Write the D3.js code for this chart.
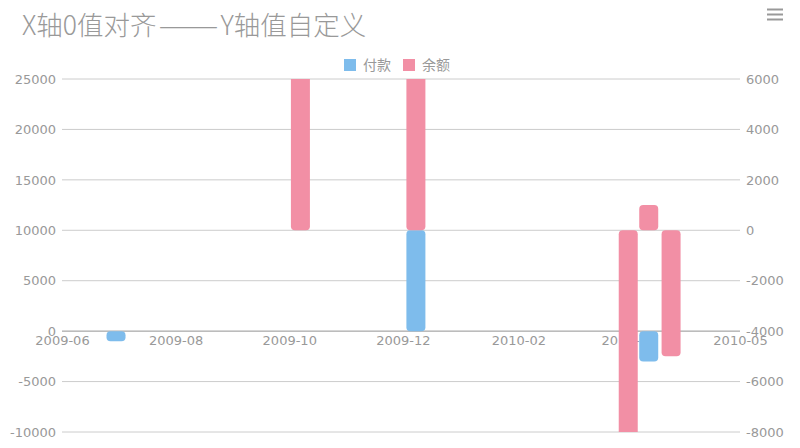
<!DOCTYPE html>
<html>
<head>
<meta charset="utf-8">
<script src="https://cdn.jsdelivr.net/npm/d3@7"></script>
<style>
  body { margin: 0; background: #fff; }
  svg { display: block; }
</style>
</head>
<body>
<svg></svg>
<script>
// 付款 -> left axis, 余额 -> right axis
const payDates = ["2009-06-30", "2009-12-08", "2010-04-12"];
const payValues = [-1000, 10000, -3000];
const balDates = ["2009-10-07", "2009-12-08", "2010-04-01", "2010-04-12", "2010-04-24"];
const balValues = [9000, 8000, -9500, 1000, -5000];

const xTickDates = ["2009-06-01", "2009-08-01", "2009-10-01", "2009-12-01", "2010-02-01", "2010-04-01", "2010-05-31"];
const leftTicks = [-10000, -5000, 0, 5000, 10000, 15000, 20000, 25000];
const rightTicks = [-8000, -6000, -4000, -2000, 0, 2000, 4000, 6000];
const seriesNames = ["付款", "余额"];

const width = 800, height = 448;
const margin = { top: 79, right: 60, bottom: 16, left: 62 };
const colors = ["#7ebcec", "#f28fa5"];
const textColor = "#999";
const font = "'DejaVu Sans', 'Noto Sans CJK SC', sans-serif";

const parse = d3.timeParse("%Y-%m-%d");
const fmt = d3.timeFormat("%Y-%m");
const num = (d) => String(d); // plain hyphen minus, no thousands comma

const svg = d3.select("svg").attr("width", width).attr("height", height);

const x = d3
  .scaleTime()
  .domain([parse(xTickDates[0]), parse(xTickDates[xTickDates.length - 1])])
  .range([margin.left, width - margin.right]);

const yL = d3
  .scaleLinear()
  .domain([leftTicks[0], leftTicks[leftTicks.length - 1]])
  .range([height - margin.bottom, margin.top]);

const yR = d3
  .scaleLinear()
  .domain([rightTicks[0], rightTicks[rightTicks.length - 1]])
  .range([height - margin.bottom, margin.top]);

// title (the dashes are wider in the original font)
const title = svg
  .append("text")
  .attr("x", 22)
  .attr("y", 35)
  .attr("fill", textColor)
  .attr("font-family", "'Noto Sans CJK SC', sans-serif")
  .attr("font-weight", 300)
  .attr("font-size", 26.5);
title.append("tspan").text("X轴0值对齐");
title.append("tspan").attr("dx", 2).attr("textLength", 60).attr("lengthAdjust", "spacingAndGlyphs").text("——");
title.append("tspan").attr("dx", 2).text("Y轴值自定义");

// menu icon
svg
  .append("g")
  .selectAll("line")
  .data([9.5, 14.5, 19.5])
  .enter()
  .append("line")
  .attr("x1", 767)
  .attr("x2", 783)
  .attr("y1", (d) => d)
  .attr("y2", (d) => d)
  .attr("stroke", "#999")
  .attr("stroke-width", 2);

// gridlines
svg
  .append("g")
  .selectAll("line")
  .data(leftTicks)
  .enter()
  .append("line")
  .attr("x1", margin.left)
  .attr("x2", width - margin.right)
  .attr("y1", (d) => yL(d))
  .attr("y2", (d) => yL(d))
  .attr("stroke", "#ccc");

// y axes
const leftAxis = svg
  .append("g")
  .attr("transform", `translate(${margin.left},0)`)
  .call(d3.axisLeft(yL).tickValues(leftTicks).tickFormat(num).tickSize(0).tickPadding(6));

const rightAxis = svg
  .append("g")
  .attr("transform", `translate(${width - margin.right},0)`)
  .call(d3.axisRight(yR).tickValues(rightTicks).tickFormat(num).tickSize(0).tickPadding(6));

// x axis sits on the left zero
const xAxis = svg
  .append("g")
  .attr("transform", `translate(0,${yL(0)})`)
  .call(
    d3
      .axisBottom(x)
      .tickValues(xTickDates.map(parse))
      .tickFormat(fmt)
      .tickSize(0)
      .tickPadding(5)
  );

[leftAxis, rightAxis, xAxis].forEach((a) => {
  a.select(".domain").remove();
  a.selectAll("text")
    .attr("fill", textColor)
    .attr("font-family", font)
    .attr("font-size", 13);
});

svg
  .append("line")
  .attr("x1", margin.left)
  .attr("x2", width - margin.right)
  .attr("y1", yL(0))
  .attr("y2", yL(0))
  .attr("stroke", "#aaa");

// bars
svg
  .append("clipPath")
  .attr("id", "plot")
  .append("rect")
  .attr("x", margin.left)
  .attr("y", margin.top)
  .attr("width", width - margin.left - margin.right)
  .attr("height", height - margin.top - margin.bottom);

const barW = 19;
const bars = svg.append("g").attr("clip-path", "url(#plot)");

function drawBars(dates, values, y, color) {
  bars
    .append("g")
    .selectAll("rect")
    .data(values)
    .enter()
    .append("rect")
    .attr("x", (d, i) => x(parse(dates[i])) - barW / 2)
    .attr("y", (d) => Math.min(y(d), y(0)))
    .attr("width", barW)
    .attr("height", (d) => Math.abs(y(d) - y(0)))
    .attr("rx", 4)
    .attr("fill", color);
}

drawBars(payDates, payValues, yL, colors[0]);
drawBars(balDates, balValues, yR, colors[1]);

// legend
const legend = svg
  .append("g")
  .selectAll("g")
  .data(seriesNames)
  .enter()
  .append("g")
  .attr("transform", (d, i) => `translate(${344 + i * 59},59)`);

legend
  .append("rect")
  .attr("width", 12)
  .attr("height", 12)
  .attr("fill", (d, i) => colors[i]);

legend
  .append("text")
  .attr("x", 19)
  .attr("y", 6)
  .attr("dy", "0.35em")
  .text((d) => d)
  .attr("fill", textColor)
  .attr("font-family", font)
  .attr("font-size", 14);
</script>
</body>
</html>
